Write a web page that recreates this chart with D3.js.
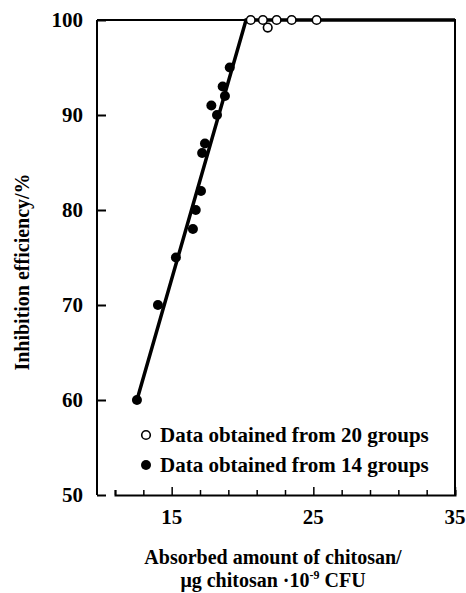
<!DOCTYPE html>
<html><head><meta charset="utf-8">
<script src="https://cdn.jsdelivr.net/npm/d3@7"></script>
<style>body{margin:0;background:#fff}</style>
</head><body>
<svg id="c" width="466" height="593"></svg>
<script>
// Data
const filledX = [12.55, 14.03, 15.3, 16.5, 16.7, 17.07, 17.15, 17.35, 17.8, 18.2, 18.76, 18.6, 19.1];
const filledY = [60, 70, 75, 78, 80, 82, 86, 87, 91, 90, 92, 93, 95];
const openX = [20.58, 21.44, 21.78, 22.41, 23.47, 25.23];
const openY = [100, 100, 99.2, 100, 100, 100];
const fitX = [12.55, 20.25, 35];
const fitY = [60, 100, 100];
const xTicks = [11, 13, 15, 17, 19, 21, 23, 25, 27, 29, 31, 33, 35];
const xLabels = [15, 25, 35];
const yTicks = [50, 60, 70, 80, 90, 100];
const legendLabels = ["Data obtained from 20 groups", "Data obtained from 14 groups"];

const svg = d3.select("#c");
const font = "'Liberation Serif','Times New Roman',serif";
const x = d3.scaleLinear().domain([11, 35]).range([115, 455]);
const y = d3.scaleLinear().domain([50, 100]).range([495, 20]);
const leftX = 97;

// frame: top, right
svg.append("path").attr("d", `M${leftX},${y(100)}H${x(35)}V${y(50)}`)
  .attr("fill", "none").attr("stroke", "#000").attr("stroke-width", 2);
svg.append("line").attr("x1", leftX).attr("x2", leftX).attr("y1", y(100)).attr("y2", y(50))
  .attr("stroke", "#000").attr("stroke-width", 2);

// y axis ticks (inward)
const yAxis = d3.axisRight(y).tickValues(yTicks).tickSize(9).tickFormat("");
const gy = svg.append("g").attr("transform", `translate(${leftX},0)`).call(yAxis);
gy.select(".domain").remove();
gy.selectAll("line").attr("stroke-width", 2);
yTicks.forEach(v => {
  svg.append("text").attr("x", 83).attr("y", y(v)).attr("dy", "0.35em")
    .attr("text-anchor", "end").attr("font-family", font).attr("font-weight", "bold")
    .attr("font-size", 21).text(v);
});

// x axis (ticks upward)
const xAxis = d3.axisTop(x).tickValues(xTicks).tickSizeOuter(0)
  .tickSize(5).tickFormat("");
const gx = svg.append("g").attr("transform", `translate(0,${y(50)})`).call(xAxis);
gx.select(".domain").attr("stroke-width", 2);
gx.selectAll(".tick line").attr("stroke-width", 1.5)
  .attr("y2", d => xLabels.includes(d) ? -8 : -5);
xLabels.forEach(v => {
  svg.append("text").attr("x", x(v)).attr("y", 524).attr("text-anchor", "middle")
    .attr("font-family", font).attr("font-weight", "bold").attr("font-size", 21).text(v);
});

// fit line
const line = d3.line().x(d => x(d[0])).y(d => y(d[1]));
svg.append("path").datum(d3.zip(fitX, fitY)).attr("d", line)
  .attr("fill", "none").attr("stroke", "#000").attr("stroke-width", 3.5);

// points
svg.selectAll(".f").data(d3.zip(filledX, filledY)).join("circle")
  .attr("cx", d => x(d[0])).attr("cy", d => y(d[1])).attr("r", 5).attr("fill", "#000");
svg.selectAll(".o").data(d3.zip(openX, openY)).join("circle")
  .attr("cx", d => x(d[0])).attr("cy", d => y(d[1])).attr("r", 4.3)
  .attr("fill", "#fff").attr("stroke", "#000").attr("stroke-width", 1.6);

// legend
svg.append("circle").attr("cx", 146).attr("cy", 435).attr("r", 4.3)
  .attr("fill", "#fff").attr("stroke", "#000").attr("stroke-width", 1.6);
svg.append("circle").attr("cx", 146).attr("cy", 465).attr("r", 5).attr("fill", "#000");
legendLabels.forEach((t, i) => {
  svg.append("text").attr("x", 160).attr("y", 442 + i * 30)
    .attr("font-family", font).attr("font-weight", "bold").attr("font-size", 21).text(t);
});

// axis titles
svg.append("text").attr("transform", "translate(29,272) rotate(-90)")
  .attr("text-anchor", "middle").attr("font-family", font).attr("font-weight", "bold")
  .attr("font-size", 20).text("Inhibition efficiency/%");
svg.append("text").attr("x", 273).attr("y", 564).attr("text-anchor", "middle")
  .attr("font-family", font).attr("font-weight", "bold").attr("font-size", 20)
  .text("Absorbed amount of chitosan/");
const t2 = svg.append("text").attr("x", 273).attr("y", 587).attr("text-anchor", "middle")
  .attr("font-family", font).attr("font-weight", "bold").attr("font-size", 20);
t2.append("tspan").text("\u03bcg chitosan \u00b710");
t2.append("tspan").attr("font-size", 12).attr("dy", -8).text("-9");
t2.append("tspan").attr("dy", 8).text(" CFU");
</script>
</body></html>
